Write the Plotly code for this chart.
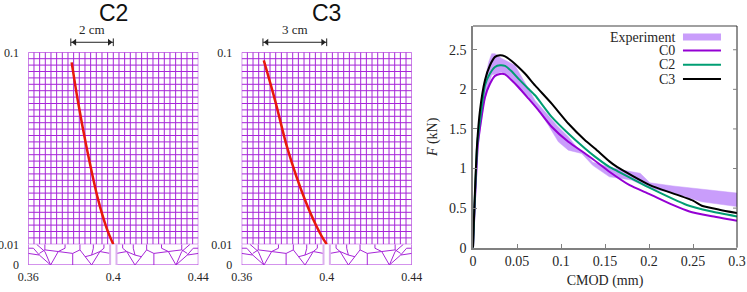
import plotly.graph_objects as go

W, H = 747, 292

# ---- mesh panels -----
x_ticks = [0.36, 0.4, 0.44]
y_upper_ticks = [0.01, 0.1]
grid_x_count = 31
grid_y_count = 31

bottom_mesh = [
    [(.36, 0), (.3985, 0)],
    [(.36, .01), (.36, .0081), (.3624, .0081), (.3652, .0048)],
    [(.36, .0081), (.36, 0)],
    [(.36, .0056), (.3652, .0048), (.3705, 0)],
    [(.3639, .01), (.3678, .0065), (.3705, 0)],
    [(.3652, .0056), (.3678, .0073), (.3741, .0065), (.3705, 0)],
    [(.3678, .0073), (.3678, .01)],
    [(.3741, .0065), (.3773, .0081), (.3773, .01)],
    [(.3741, .0065), (.3809, .0056), (.3843, .0073), (.3843, .01)],
    [(.3809, .0056), (.3809, 0)],
    [(.3843, .0073), (.3867, .004), (.3898, 0), (.3937, .0065), (.3898, .0048), (.3867, .004)],
    [(.3898, .0048), (.3906, .0081), (.3906, .01)],
    [(.3937, .0065), (.3956, .0081), (.3956, .01)],
    [(.3937, .0065), (.3985, .0056)],
]
crack_edge_x = 0.3985

c2_crack_x = [.3804, .3835, .3872, .3929, .3969, .4]
c2_crack_y = [.0953, .0762, .0566, .0308, .0175, .01]
c3_crack_x = [.3704, .3757, .3818, .3898, .3968, .4]
c3_crack_y = [.0962, .0775, .054, .0308, .0153, .01]

# ---- force curves -----
exp_x = [0, .006, .012, .018, .0212, .025, .0326, .0364, .0477, .0553, .061, .0705, .0856, .0951, .1083, .118, .1273, .136, .155, .17, .19, .201, .227, .26, .3]
exp_top = [0, 1.45, 2.05, 2.35, 2.45, 2.45, 2.39, 2.367, 2.304, 2.157, 2.05, 1.86, 1.67, 1.547, 1.40, 1.27, 1.19, 1.08, 1.02, .98, .94, .82, .78, .74, .69]
exp_low_x = [0, .006, .012, .018, .0212, .0326, .0439, .0515, .0629, .0743, .0856, .097, .1083, .1235, .136, .155, .18, .201, .227, .26, .3]
exp_low = [0, 1.3, 1.8, 2.05, 2.18, 2.22, 2.135, 2.008, 1.905, 1.737, 1.547, 1.337, 1.232, 1.19, 1.04, .895, .855, .75, .69, .58, .52]

c0_x = [0, .002, .0055, .0099, .0136, .0193, .025, .0307, .0364, .0439, .0515, .0629, .0743, .0894, .1083, .1273, .136, .155, .178, .2, .227, .246, .27, .3]
c0_y = [0, .55, 1.3, 1.66, 1.9, 2.07, 2.17, 2.195, 2.19, 2.115, 2.03, 1.885, 1.737, 1.527, 1.337, 1.19, 1.12, .96, .79, .68, .54, .457, .4, .34]
c2_x = [0, .002, .0049, .008, .0136, .0193, .025, .0307, .0364, .0439, .0515, .0629, .0705, .0894, .1083, .1273, .1386, .155, .1636, .201, .243, .27, .3]
c2_y = [0, .6, 1.32, 1.61, 2.05, 2.199, 2.283, 2.304, 2.296, 2.228, 2.135, 2.008, 1.925, 1.652, 1.442, 1.253, 1.15, 1.02, .97, .755, .54, .46, .395]
c3_x = [0, .0015, .0042, .008, .0136, .0193, .025, .0307, .0364, .0439, .0515, .059, .0705, .0894, .1083, .1273, .1386, .155, .1636, .201, .25, .26, .28, .3]
c3_y = [0, .5, 1.23, 1.74, 2.115, 2.304, 2.41, 2.43, 2.417, 2.358, 2.283, 2.2, 2.05, 1.82, 1.568, 1.358, 1.253, 1.09, 1.02, .79, .595, .53, .48, .437]

force_ticks_y = [0, .5, 1, 1.5, 2, 2.5]
force_ticks_y_text = ["0", "0.5", "1", "1.5", "2", "2.5"]
force_ticks_x = [0, .05, .1, .15, .2, .25, .3]
force_ticks_x_text = ["0", "0.05", "0.1", "0.15", "0.2", "0.25", "0.3"]
legend_names = ["Experiment", "C0", "C2", "C3"]
legend_y = [2.66, 2.49, 2.31, 2.13]
legend_x = [.2386, .2818]

MESH = "#a726d8"
MESH_LIGHT = "#dcb0ee"
RED = "#e8180c"
EXP = "#c99dfb"
C0 = "#9400d3"
C2 = "#009e73"
C3 = "#000000"
GRAY = "#808080"
TXT = "#262626"
SERIF = "Liberation Serif"

fig = go.Figure()


def dx(a, b):
    return [a / W, b / W]


def dy(top, bottom):
    return [1 - bottom / H, 1 - top / H]


def panel(xa, yu, yl, yb, title, width_label, crack_x, crack_y, bracket_left):
    gx, gy = [], []
    for i in range(grid_x_count):
        v = 0.36 + i * 0.08 / (grid_x_count - 1)
        gx += [v, v, None]
        gy += [0.01, 0.1, None]
    for j in range(grid_y_count):
        v = 0.01 + j * 0.09 / (grid_y_count - 1)
        gx += [0.36, 0.44, None]
        gy += [v, v, None]
    fig.add_trace(go.Scatter(x=gx, y=gy, xaxis=xa, yaxis=yu, mode="lines", cliponaxis=False,
                             line=dict(color=MESH, width=1), hoverinfo="skip"))
    mx, my = [], []
    for poly in bottom_mesh:
        for sign in (0, 1):
            for px, py in poly:
                mx.append(0.8 - px if sign else px)
                my.append(py)
            mx.append(None)
            my.append(None)
    fig.add_trace(go.Scatter(x=mx, y=my, xaxis=xa, yaxis=yl, mode="lines", cliponaxis=False,
                             line=dict(color=MESH, width=1), hoverinfo="skip"))
    fig.add_trace(go.Scatter(x=[crack_edge_x, crack_edge_x, None, 0.8 - crack_edge_x, 0.8 - crack_edge_x],
                             y=[0, .01, None, 0, .01], xaxis=xa, yaxis=yl, mode="lines",
                             line=dict(color=MESH_LIGHT, width=2), hoverinfo="skip"))
    fig.add_trace(go.Scatter(x=crack_x, y=crack_y, xaxis=xa, yaxis=yu, mode="lines",
                             line=dict(color=RED, width=2.5, shape="spline"), hoverinfo="skip"))
    # dimension bracket above the mesh, on its own narrow y axis
    by = 0.1047
    fig.add_trace(go.Scatter(x=[bracket_left, 0.4], y=[by, by], xaxis=xa, yaxis=yb, mode="lines",
                             line=dict(color="#222222", width=1), hoverinfo="skip"))
    fig.add_trace(go.Scatter(x=[bracket_left + 0.0018, 0.4 - 0.0018], y=[by, by], xaxis=xa, yaxis=yb,
                             mode="markers", hoverinfo="skip",
                             marker=dict(symbol=["triangle-left", "triangle-right"], size=6, color="#222222")))
    fig.add_trace(go.Scatter(x=[bracket_left, bracket_left, None, 0.4, 0.4],
                             y=[by - .0018, by + .0018, None, by - .0018, by + .0018],
                             xaxis=xa, yaxis=yb, mode="lines",
                             line=dict(color="#222222", width=1), hoverinfo="skip"))
    fig.add_annotation(x=(bracket_left + 0.4) / 2, y=1 - 30 / H, xref=xa, yref="paper", yanchor="middle",
                       text=width_label, showarrow=False, font=dict(family=SERIF, size=13, color=TXT))
    fig.add_annotation(x=0.4, y=1 - 13 / H, xref=xa, yref="paper", yanchor="middle",
                       text=title, showarrow=False, font=dict(family="Liberation Sans", size=23, color="#111111"))


panel("x", "y", "y2", "y6", "C2", "2 cm", c2_crack_x, c2_crack_y, 0.38)
panel("x2", "y3", "y4", "y7", "C3", "3 cm", c3_crack_x, c3_crack_y, 0.37)

# force-displacement panel
band_x = exp_x + exp_low_x[::-1]
band_y = exp_top + exp_low[::-1]
fig.add_trace(go.Scatter(x=band_x, y=band_y, xaxis="x3", yaxis="y5", mode="lines", fill="toself",
                         fillcolor=EXP, line=dict(color=EXP, width=0.5), hoverinfo="skip"))
for xs, ys, col in ((c0_x, c0_y, C0), (c2_x, c2_y, C2), (c3_x, c3_y, C3)):
    fig.add_trace(go.Scatter(x=xs, y=ys, xaxis="x3", yaxis="y5", mode="lines",
                             line=dict(color=col, width=2, shape="spline", smoothing=0.5), hoverinfo="skip"))
for name, ly, col, lw in zip(legend_names, legend_y, (EXP, C0, C2, C3), (7, 2, 2, 2)):
    fig.add_trace(go.Scatter(x=legend_x, y=[ly, ly], xaxis="x3", yaxis="y5", mode="lines",
                             line=dict(color=col, width=lw), hoverinfo="skip"))
    fig.add_annotation(x=legend_x[0], y=ly, xref="x3", yref="y5", xanchor="right", xshift=-6,
                       text=name, showarrow=False, font=dict(family=SERIF, size=14, color=TXT))

tickfont = dict(family=SERIF, size=14, color=TXT)
meshfont = dict(family=SERIF, size=12, color=TXT)
CLEAR = "rgba(0,0,0,0)"


def mesh_x(dom, anchor):
    return dict(domain=dom, range=[0.36, 0.44], tickvals=x_ticks, ticktext=["0.36", "0.4", "0.44"],
                anchor=anchor, showgrid=False, zeroline=False, showline=False, ticks="outside", ticklen=1,
                tickcolor=CLEAR, tickfont=meshfont)


def mesh_yu(dom, anchor):
    return dict(domain=dom, range=[0.01, 0.1], tickvals=y_upper_ticks, ticktext=["0.01", "0.1"], anchor=anchor,
                showgrid=False, zeroline=False, showline=False, ticks="outside", ticklen=6,
                tickcolor=CLEAR, tickfont=meshfont)


def mesh_yl(dom, anchor):
    return dict(domain=dom, range=[0, 0.01], tickvals=[0], ticktext=["0"], anchor=anchor,
                showgrid=False, zeroline=False, showline=False, ticks="outside", ticklen=6,
                tickcolor=CLEAR, tickfont=meshfont)


def mesh_yb(anchor):
    return dict(domain=dy(28.3, 52.3), range=[0.1, 0.11125], anchor=anchor, visible=False)


fig.update_layout(
    width=W, height=H, margin=dict(l=0, r=0, t=0, b=0, autoexpand=False),
    paper_bgcolor="white", plot_bgcolor="white", showlegend=False,
    xaxis=mesh_x(dx(28.3, 198.3), "y2"),
    yaxis=mesh_yu(dy(52.3, 244.3), "x"),
    yaxis2=mesh_yl(dy(244.3, 265), "x"),
    yaxis6=mesh_yb("x"),
    xaxis2=mesh_x(dx(241.7, 411.7), "y4"),
    yaxis3=mesh_yu(dy(52.3, 244.3), "x2"),
    yaxis4=mesh_yl(dy(244.3, 265), "x2"),
    yaxis7=mesh_yb("x2"),
    xaxis3=dict(domain=dx(473, 737), range=[0, 0.3], tickvals=force_ticks_x, ticktext=force_ticks_x_text,
                anchor="y5", showgrid=False, zeroline=False, showline=True, linecolor=GRAY, linewidth=1.5,
                ticks="inside", ticklen=4, tickcolor=GRAY, tickfont=tickfont,
                title=dict(text="CMOD (mm)", font=dict(family=SERIF, size=14, color=TXT), standoff=7)),
    yaxis5=dict(domain=dy(26, 247.7), range=[0, 2.8], tickvals=force_ticks_y, ticktext=force_ticks_y_text,
                anchor="x3", showgrid=False, zeroline=False, showline=True, linecolor=GRAY, linewidth=1.5,
                ticks="inside", ticklen=4, tickcolor=GRAY, tickfont=tickfont, mirror=False, ticklabelstandoff=2,
                title=dict(text="<i>F</i> (kN)", font=dict(family=SERIF, size=14, color=TXT), standoff=8)),
    shapes=[
        dict(type="line", xref="x3 domain", yref="y5 domain", x0=0, x1=1, y0=1, y1=1,
             line=dict(color=GRAY, width=1.5)),
        dict(type="line", xref="x3 domain", yref="y5 domain", x0=1, x1=1, y0=0, y1=1,
             line=dict(color="#222222", width=1)),
    ] + [
        dict(type="line", xref="x3 domain", yref="y5", x0=1, x1=0.985, y0=v, y1=v,
             line=dict(color=GRAY, width=1)) for v in force_ticks_y[1:]
    ],
)

fig.write_html("out.html", config=dict(displayModeBar=False),
               post_script="document.body.style.margin='0';document.documentElement.style.overflow='hidden';")
